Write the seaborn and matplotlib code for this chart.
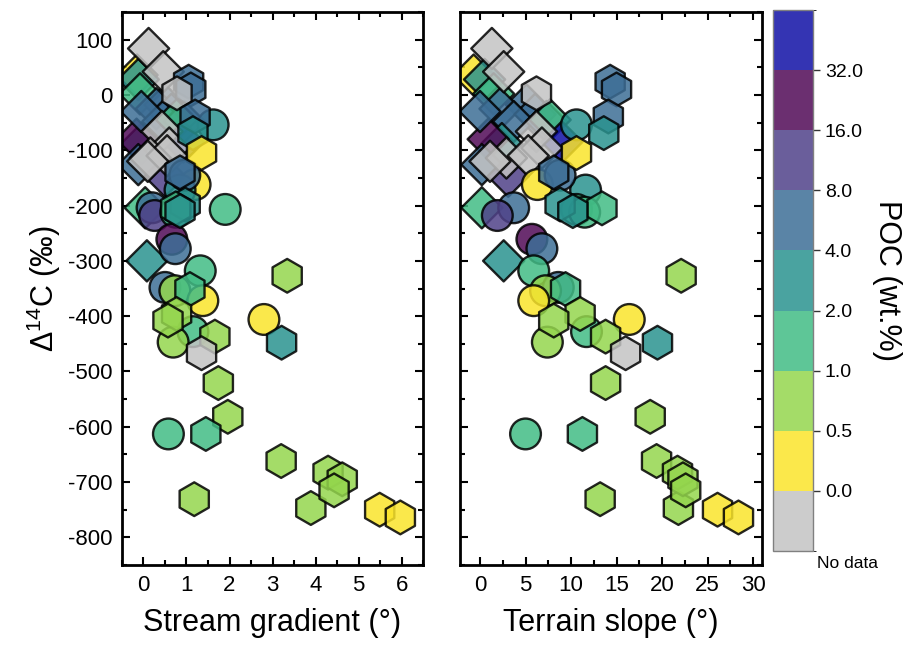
import numpy as np
import pandas as pd
import matplotlib
matplotlib.use("Agg")
import matplotlib.pyplot as plt
import seaborn as sns
from matplotlib.colors import ListedColormap, BoundaryNorm, to_rgb
from matplotlib.ticker import MultipleLocator
import matplotlib.colorbar as mcolorbar

# ---- sample data ---------------------------------------------------------
# Radiocarbon content (permil), channel gradient and hillslope angle (degrees),
# particulate organic carbon (wt.%, nan = not measured) and sample group.
d14c = [
    36, 28, 2, -18, -25, -35, -48, -48, -45, -88, -80, -126, -85, -147, -204, -300, -30,
    84, 42, -66, -96, -114, -110, -120,
    -54, -162, -172, -145, -204, -218, -207, -212, -261, -278, -318, -348, -354,
    -372, -406, -428, -447, -613,
    24, 10, 3, -39, -69, -105, -140, -198, -205, -210, -327, -351, -396, -408,
    -437, -448, -467, -521, -582, -613, -662, -731, -747, -683, -695, -715,
    -750, -764,
]
stream_gradient = [
    -0.15, -0.12, -0.08, 0.50, 0.30, 0.65, 0.45, 0.95, 0.77, -0.04, -0.16, -0.12, 0.93, 0.50, 0.04, 0.08, -0.05,
    0.12, 0.46, 0.43, 0.60, 0.16, 0.55, 0.10,
    1.62, 1.20, 0.85, 0.96, 0.20, 0.26, 1.90, 0.75, 0.66, 0.74, 1.32, 0.50, 0.73,
    1.38, 2.80, 1.15, 0.69, 0.58,
    1.05, 1.10, 0.78, 1.20, 1.15, 1.35, 0.85, 0.97, 0.75, 0.85, 3.34, 1.08, 0.77, 0.57,
    1.66, 3.21, 1.35, 1.74, 1.96, 1.45, 3.20, 1.18, 3.89, 4.29, 4.62, 4.43,
    5.49, 5.97,
]
terrain_slope = [
    -0.7, 0.5, 1.5, 5.1, 2.2, 6.05, 3.7, 7.3, 7.7, 2.4, 0.9, 0.2, 9.0, 3.1, 0.2, 2.6, 0.0,
    1.3, 2.6, 6.2, 6.8, 2.9, 5.3, 1.1,
    10.6, 6.3, 11.6, 8.8, 3.7, 1.9, 10.6, 11.5, 5.7, 6.8, 5.9, 8.6, 7.2,
    5.9, 16.4, 11.7, 7.4, 5.0,
    14.3, 15.0, 6.2, 14.1, 13.6, 10.6, 8.1, 8.8, 13.4, 10.2, 22.1, 9.4, 11.0, 8.1,
    13.8, 19.5, 16.0, 13.8, 18.7, 11.25, 19.4, 13.2, 21.8, 21.7, 22.3, 22.6,
    26.1, 28.4,
]
poc = [
    0.3, 3.0, 1.5, 6.0, 6.0, 6.0, 6.0, 6.0, 1.5, 3.0, 24.0, 6.0, 40.0, 12.0, 1.5, 3.0, 6.0,
    np.nan, np.nan, np.nan, np.nan, np.nan, np.nan, np.nan,
    3.0, 0.3, 3.0, 6.0, 6.0, 12.0, 1.5, 1.5, 24.0, 6.0, 1.5, 6.0, 0.7,
    0.3, 0.3, 1.5, 0.7, 1.5,
    6.0, 6.0, np.nan, 6.0, 3.0, 0.3, 6.0, 3.0, 1.5, 3.0, 0.7, 1.5, 0.7, 0.7,
    0.7, 3.0, np.nan, 0.7, 0.7, 1.5, 0.7, 0.7, 0.7, 0.7, 0.7, 0.7,
    0.3, 0.3,
]
sample_type = ["A"] * 24 + ["B"] * 18 + ["C"] * 28

poc_edges = [0.0, 0.5, 1.0, 2.0, 4.0, 8.0, 16.0, 32.0]
poc_tick_labels = ["0.0", "0.5", "1.0", "2.0", "4.0", "8.0", "16.0", "32.0"]
bin_names = ["No data", "0-0.5", "0.5-1", "1-2", "2-4", "4-8", "8-16", "16-32", ">32"]
bin_colors = ["#cccccc", "#fbe84b", "#a4dc68", "#5ec697", "#4aa3a0",
              "#5a84a6", "#6a5e9b", "#6b2f70", "#3434b3"]

# ---- table ---------------------------------------------------------------
def poc_bin(v):
    if np.isnan(v):
        return bin_names[0]
    return bin_names[int(np.searchsorted(poc_edges, v, side="right"))]

df = pd.DataFrame({
    "d14c": d14c,
    "stream_gradient": stream_gradient,
    "terrain_slope": terrain_slope,
    "poc": poc,
    "sample_type": sample_type,
})
df["poc_bin"] = df["poc"].apply(poc_bin)

ALPHA = 0.85
def marker_colour(c):
    rgb = np.array(to_rgb(c))
    return tuple(np.clip((rgb - (1 - ALPHA)) / ALPHA, 0, 1))

palette = {n: marker_colour(c) for n, c in zip(bin_names, bin_colors)}
marker_map = {"A": "D", "B": "o", "C": "h"}
size_map = {"A": 440, "B": 490, "C": 590}

# ---- figure --------------------------------------------------------------
sns.set_style("ticks")
plt.rcParams["font.family"] = ["Liberation Sans", "DejaVu Sans"]
plt.rcParams["mathtext.fontset"] = "custom"
plt.rcParams["mathtext.rm"] = "Liberation Sans"
plt.rcParams["mathtext.it"] = "Liberation Sans:italic"
plt.rcParams["axes.unicode_minus"] = False
plt.rcParams["text.color"] = "black"
plt.rcParams["axes.labelcolor"] = "black"
plt.rcParams["xtick.color"] = "black"
plt.rcParams["ytick.color"] = "black"

fig = plt.figure(figsize=(9.10, 6.46), dpi=100)
ax1 = fig.add_axes([0.134, 0.1254, 0.331, 0.856])
ax2 = fig.add_axes([0.5055, 0.1254, 0.332, 0.856])
cax = fig.add_axes([0.8495, 0.147, 0.044, 0.8375])

for ax, xcol in ((ax1, "stream_gradient"), (ax2, "terrain_slope")):
    sns.scatterplot(data=df, x=xcol, y="d14c", hue="poc_bin", hue_order=bin_names,
                    palette=palette, style="sample_type", markers=marker_map,
                    size="sample_type", sizes=size_map, alpha=ALPHA,
                    edgecolor="black", linewidth=1.7, legend=False, ax=ax)
    ax.set_ylim(-850, 150)
    ax.yaxis.set_major_locator(MultipleLocator(100))
    ax.yaxis.set_minor_locator(MultipleLocator(50))
    ax.tick_params(which="both", direction="in", top=True, right=True, width=1.5)
    ax.tick_params(which="major", length=6, labelsize=16, pad=7)
    ax.tick_params(which="minor", length=3.5)
    for sp in ax.spines.values():
        sp.set_linewidth(2)
        sp.set_color("black")
        sp.set_visible(True)

ax1.set_xlim(-0.5, 6.5)
ax1.xaxis.set_major_locator(MultipleLocator(1))
ax1.xaxis.set_minor_locator(MultipleLocator(0.5))
ax1.set_xlabel("Stream gradient (°)", fontsize=22, labelpad=9)
ax1.set_ylabel("Δ$^{14}$C (‰)", fontsize=22, labelpad=3)

ax2.set_xlim(-2.2, 31)
ax2.xaxis.set_major_locator(MultipleLocator(5))
ax2.xaxis.set_minor_locator(MultipleLocator(2.5))
ax2.set_xlabel("Terrain slope (°)", fontsize=22, labelpad=9)
ax2.set_ylabel("")
ax2.tick_params(labelleft=False)

# ---- POC colour bar ------------------------------------------------------
cmap = ListedColormap(bin_colors)
norm = BoundaryNorm(np.arange(len(bin_colors) + 1), cmap.N)
cb = mcolorbar.ColorbarBase(cax, cmap=cmap, norm=norm,
                            ticks=np.arange(1, len(bin_colors)))
cb.set_ticklabels(poc_tick_labels)
cb.outline.set_edgecolor("#808080")
cb.outline.set_linewidth(1)
cax.tick_params(direction="out", length=5, width=1, labelsize=14, color="#333333")
cb.set_label("POC (wt.%)", fontsize=22, rotation=270, labelpad=28)
fig.text(0.898, 0.128, "No data", fontsize=12.5, ha="left", va="center")

fig.savefig("out.png", dpi=100)
